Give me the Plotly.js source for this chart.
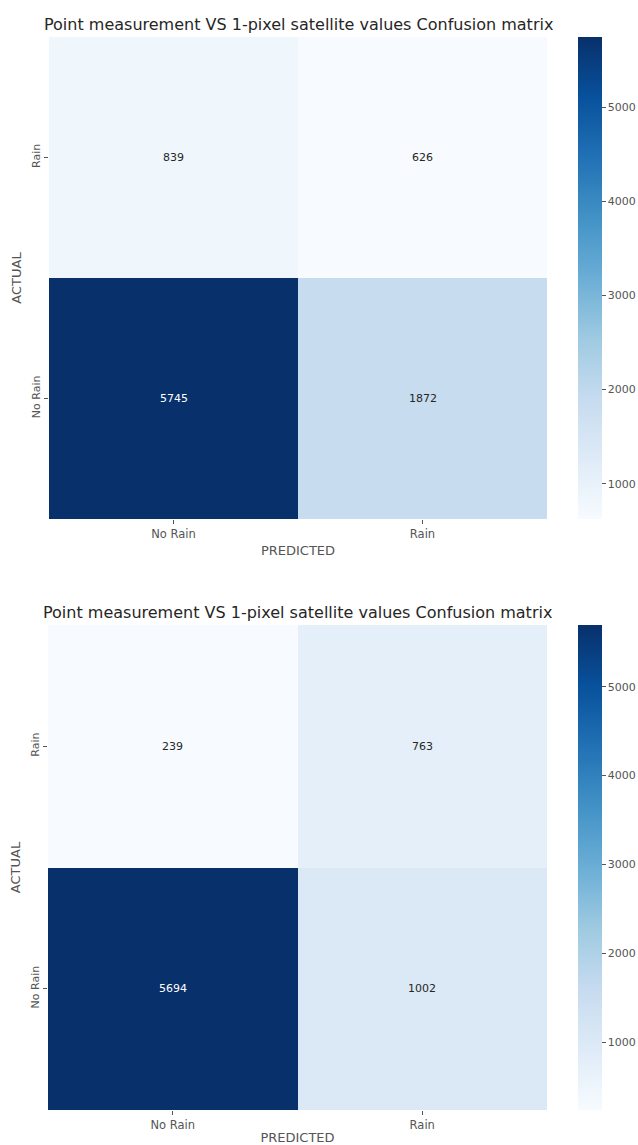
<!DOCTYPE html>
<html>
<head>
<meta charset="utf-8">
<script src="https://cdn.plot.ly/plotly-3.0.1.min.js"></script>
<style>
  html, body { margin: 0; padding: 0; background: #ffffff; }
  #chart { width: 638px; height: 1145px; }
</style>
</head>
<body>
<div id="chart"></div>
<script>
// Class labels shared by both matrices
const predictedLabels = ['No Rain', 'Rain'];
const actualLabels = ['No Rain', 'Rain'];

// Counts, rows = actual (No Rain, Rain), columns = predicted (No Rain, Rain)
const matrixTopNoRain = [5745, 1872];
const matrixTopRain = [839, 626];
const matrixBottomNoRain = [5694, 1002];
const matrixBottomRain = [239, 763];

const chartTitle = 'Point measurement VS 1-pixel satellite values Confusion matrix';
const colorbarTicks = [1000, 2000, 3000, 4000, 5000];

// Matplotlib "Blues" colour ramp
const blues = [
  [0.000, '#f7fbff'], [0.125, '#deebf7'], [0.250, '#c6dbef'],
  [0.375, '#9ecae1'], [0.500, '#6baed6'], [0.625, '#4292c6'],
  [0.750, '#2171b5'], [0.875, '#08519c'], [1.000, '#08306b']
];

const W = 638, H = 1145;
const font = 'DejaVu Sans, sans-serif';
const grey = '#555555';

function hexToRgb(h) {
  return [parseInt(h.slice(1, 3), 16), parseInt(h.slice(3, 5), 16), parseInt(h.slice(5, 7), 16)];
}
function colourAt(t) {
  for (let i = 1; i < blues.length; i++) {
    if (t <= blues[i][0]) {
      const a = blues[i - 1], b = blues[i];
      const f = (t - a[0]) / (b[0] - a[0]);
      const ca = hexToRgb(a[1]), cb = hexToRgb(b[1]);
      return ca.map((v, k) => v + (cb[k] - v) * f);
    }
  }
  return hexToRgb(blues[blues.length - 1][1]);
}
function luminance(rgb) {
  const c = rgb.map(v => {
    v /= 255;
    return v <= 0.03928 ? v / 12.92 : Math.pow((v + 0.055) / 1.055, 2.4);
  });
  return 0.2126 * c[0] + 0.7152 * c[1] + 0.0722 * c[2];
}

const panels = [
  { z: [matrixTopNoRain, matrixTopRain], top: 37, bottom: 519, left: 49, right: 547, suffix: '' },
  { z: [matrixBottomNoRain, matrixBottomRain], top: 625, bottom: 1110, left: 48, right: 547, suffix: '2' }
];

const data = [];
const annotations = [];
const layout = {
  width: W, height: H,
  margin: { l: 0, r: 0, t: 0, b: 0 },
  paper_bgcolor: '#ffffff',
  plot_bgcolor: '#ffffff',
  font: { family: font, color: grey },
  showlegend: false,
  annotations: annotations
};

panels.forEach((p, idx) => {
  const flat = p.z.flat();
  const zmin = Math.min(...flat), zmax = Math.max(...flat);
  const yDom = [1 - p.bottom / H, 1 - p.top / H];
  const xDom = [p.left / W, p.right / W];
  const xa = 'x' + p.suffix, ya = 'y' + p.suffix;

  data.push({
    type: 'heatmap',
    x: predictedLabels,
    y: actualLabels,
    z: p.z,
    xaxis: xa, yaxis: ya,
    zmin: zmin, zmax: zmax,
    colorscale: blues,
    xgap: 0, ygap: 0,
    hoverinfo: 'x+y+z',
    colorbar: {
      x: 578 / W, xanchor: 'left',
      y: (yDom[0] + yDom[1]) / 2, yanchor: 'middle',
      len: yDom[1] - yDom[0], lenmode: 'fraction',
      thickness: 24, thicknessmode: 'pixels',
      outlinewidth: 0,
      tickvals: colorbarTicks,
      ticks: 'outside', ticklen: 4, tickwidth: 1, tickcolor: grey,
      ticklabelstandoff: 3,
      tickfont: { family: font, size: 11, color: grey },
      xpad: 0, ypad: 0
    }
  });

  layout['xaxis' + p.suffix] = {
    domain: xDom, anchor: ya,
    type: 'category',
    showgrid: false, zeroline: false, showline: false,
    ticks: 'outside', ticklen: 4, tickwidth: 1, tickcolor: grey,
    tickfont: { family: font, size: 11.5, color: grey },
    title: { text: 'PREDICTED', font: { family: font, size: 13, color: grey }, standoff: 6 },
    fixedrange: true
  };
  layout['yaxis' + p.suffix] = {
    domain: yDom, anchor: xa,
    type: 'category',
    showgrid: false, zeroline: false, showline: false,
    ticks: 'outside', ticklen: 4, tickwidth: 1, tickcolor: grey,
    tickangle: -90,
    tickfont: { family: font, size: 11, color: grey },
    title: { text: 'ACTUAL', font: { family: font, size: 13, color: grey }, standoff: 5 },
    fixedrange: true
  };

  // Panel title
  annotations.push({
    xref: 'paper', yref: 'paper',
    x: (xDom[0] + xDom[1]) / 2, y: yDom[1] + 1 / H,
    xanchor: 'center', yanchor: 'bottom',
    text: chartTitle, showarrow: false,
    font: { family: font, size: 16, color: '#262626' }
  });

  // Cell counts
  p.z.forEach((row, r) => {
    row.forEach((v, c) => {
      const rgb = colourAt((v - zmin) / (zmax - zmin));
      const txt = luminance(rgb) > 0.408 ? '#262626' : '#ffffff';
      annotations.push({
        xref: xa, yref: ya,
        x: predictedLabels[c], y: actualLabels[r],
        text: String(v), showarrow: false,
        font: { family: font, size: 11, color: txt }
      });
    });
  });
});

Plotly.newPlot('chart', data, layout, { displayModeBar: false, staticPlot: true });
</script>
</body>
</html>
